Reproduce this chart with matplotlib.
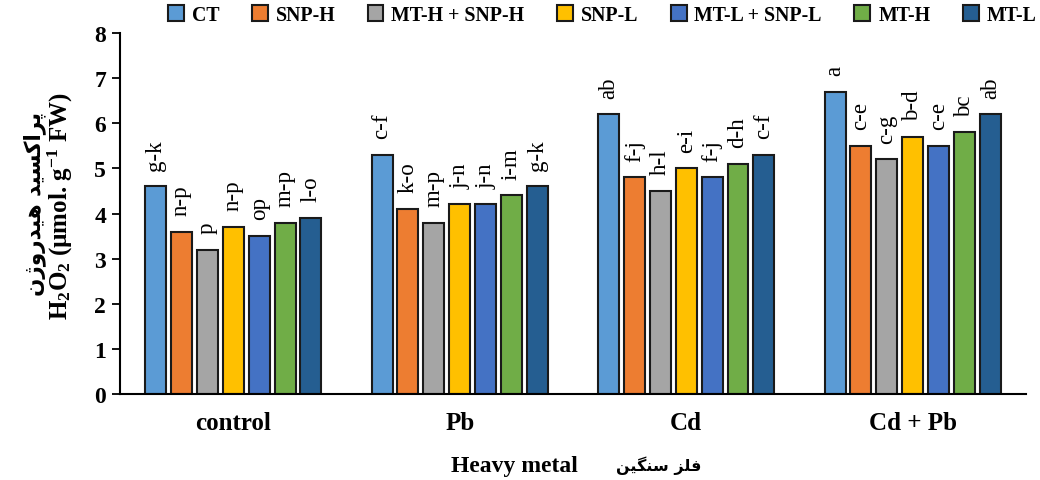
import numpy as np
import matplotlib
matplotlib.use("Agg")
import matplotlib.pyplot as plt

plt.rcParams['font.family'] = ['Liberation Serif', 'DejaVu Sans']
plt.rcParams['mathtext.fontset'] = 'custom'
plt.rcParams['mathtext.rm'] = 'Liberation Serif:bold'
plt.rcParams['mathtext.bf'] = 'Liberation Serif:bold'
plt.rcParams['mathtext.it'] = 'Liberation Serif:bold'

groups = ["control", "Pb", "Cd", "Cd + Pb"]
treatments = ["CT", "SNP-H", "MT-H + SNP-H", "SNP-L", "MT-L + SNP-L", "MT-H", "MT-L"]
colors = ["#5B9BD5", "#ED7D31", "#A5A5A5", "#FFC000", "#4472C4", "#70AD47", "#255E91"]

ct = [4.6, 5.3, 6.2, 6.7]
snp_h = [3.6, 4.1, 4.8, 5.5]
mth_snph = [3.2, 3.8, 4.5, 5.2]
snp_l = [3.7, 4.2, 5.0, 5.7]
mtl_snpl = [3.5, 4.2, 4.8, 5.5]
mt_h = [3.8, 4.4, 5.1, 5.8]
mt_l = [3.9, 4.6, 5.3, 6.2]
values = [ct, snp_h, mth_snph, snp_l, mtl_snpl, mt_h, mt_l]

letters = [
    ["g-k", "c-f", "ab", "a"],
    ["n-p", "k-o", "f-j", "c-e"],
    ["p", "m-p", "h-l", "c-g"],
    ["n-p", "j-n", "e-i", "b-d"],
    ["op", "j-n", "f-j", "c-e"],
    ["m-p", "i-m", "d-h", "bc"],
    ["l-o", "g-k", "c-f", "ab"],
]

# Persian text in presentation forms (visual order) so it renders joined
ylab_fa = "\uFEE5\uFB8A\uFEED\uFEAD\uFEAA\uFBFF\uFEEB \uFEAA\uFBFF\uFEB4\uFB90\uFE8D\uFEAE\uFB58"
xlab_fa = "\uFEE6\uFBFF\uFB95\uFEE8\uFEB3 \uFEB0\uFEE0\uFED3"

fig = plt.figure(figsize=(10.4, 4.81), dpi=100)
ax = fig.add_axes([0.1154, 0.1788, 0.8711, 0.7505])

x = np.arange(len(groups))
slot = 0.8 / len(treatments)
w = slot * 0.81
for i, (name, vals, c) in enumerate(zip(treatments, values, colors)):
    pos = x - 0.4 + slot * (i + 0.5)
    ax.bar(pos, vals, width=w, color=c, edgecolor="#1a1a1a", linewidth=1.5, label=name, zorder=2)
    for px, v, t in zip(pos, vals, letters[i]):
        ax.annotate(t, (px, v), xytext=(0, 12), textcoords="offset points",
                    rotation=90, ha="center", va="bottom", fontsize=16.5)

ax.set_xlim(-0.5, 3.5)
ax.set_ylim(0, 8)
ax.set_yticks(range(9))
ax.set_xticks(x)
ax.set_xticklabels(groups, fontsize=18, fontweight="bold")
for lab in ax.get_yticklabels():
    lab.set_fontsize(17); lab.set_fontweight("bold")
ax.tick_params(axis="x", length=0, pad=12)
ax.tick_params(axis="y", length=6, width=1.3, direction="out", pad=4)
for s in ["top", "right"]:
    ax.spines[s].set_visible(False)
for s in ["left", "bottom"]:
    ax.spines[s].set_linewidth(1.5)

fig.text(0.033, 0.575, ylab_fa, rotation=90, ha="center", va="center", fontsize=15.5,
         fontweight="bold", family="DejaVu Sans")
fig.text(0.058, 0.572, "H$_2$O$_2$ (\u00b5mol. g$^{-1}$ FW)", rotation=90, ha="center",
         va="center", fontsize=18, fontweight="bold")
fig.text(0.4947, 0.031, "Heavy metal", ha="center", va="center", fontsize=17, fontweight="bold")
fig.text(0.633, 0.031, xlab_fa, ha="center", va="center", fontsize=11.5, fontweight="bold",
         family="DejaVu Sans")

fig.legend(loc="center", bbox_to_anchor=(0.579, 0.967), ncol=7, frameon=False,
           prop={"weight": "bold", "size": 14.3}, handlelength=0.8, handleheight=0.8,
           handletextpad=0.4, columnspacing=1.63, borderaxespad=0)

fig.savefig("out.png", dpi=100)
